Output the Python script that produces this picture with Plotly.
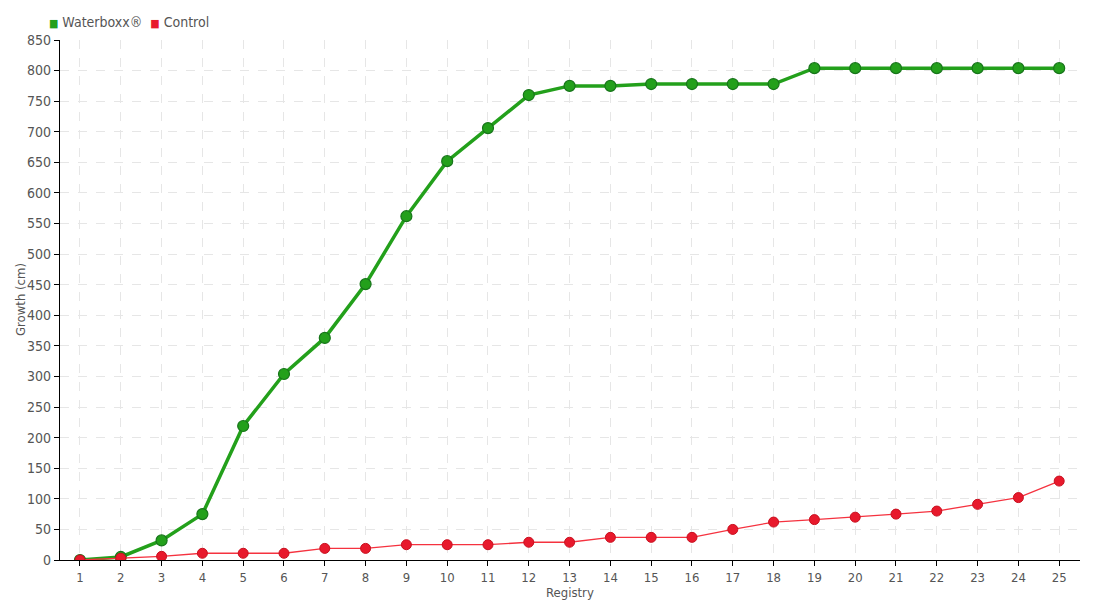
import plotly.graph_objects as go

registry = list(range(1, 26))
waterboxx = [0, 5, 32, 75, 219, 304, 363, 451, 562, 652, 706, 760, 775, 775, 778,
             778, 778, 778, 804, 804, 804, 804, 804, 804, 804]
control = [0, 3, 6, 11, 11, 11, 19, 19, 25, 25, 25, 29, 29, 37, 37,
           37, 50, 62, 66, 70, 75, 80, 91, 102, 129]

series_names = ["Waterboxx®", "Control"]
series_colors = ['#23a01b', '#e8192c']

font_family = "DejaVu Sans Condensed, Liberation Sans Narrow, sans-serif"
text_color = "#555555"

fig = go.Figure()

fig.add_trace(
    go.Scatter(
        x=registry,
        y=waterboxx,
        mode='lines+markers',
        line=dict(color='#23a01b', width=3.5),
        marker=dict(color='#23a01b', size=11, line=dict(color='#17751a', width=1.2)),
        showlegend=False,
        name=series_names[0]
    )
)

fig.add_trace(
    go.Scatter(
        x=registry,
        y=control,
        mode='lines+markers',
        line=dict(color='#f5323f', width=1.3),
        marker=dict(color='#e8192c', size=10, line=dict(color='#c8101f', width=1)),
        showlegend=False,
        name=series_names[1]
    )
)

# Compact legend drawn as text with square swatches
legend_text = "&nbsp;&nbsp;".join(
    f"<span style='color:{c}; font-size:11px'>■</span>&nbsp;{n}" for n, c in zip(series_names, series_colors)
)
fig.add_annotation(
    text=legend_text,
    xref='paper', yref='paper',
    x=-0.013, y=1.0,
    xanchor='left', yanchor='middle',
    yshift=18,
    showarrow=False,
    font=dict(size=14, color=text_color)
)

# Axis titles placed close to the tick labels, as in the original
fig.add_annotation(
    text="Registry",
    xref='paper', yref='paper',
    x=0.5, y=0.0,
    xanchor='center', yanchor='middle',
    yshift=-32,
    showarrow=False,
    font=dict(size=13, color=text_color)
)
fig.add_annotation(
    text="Growth (cm)",
    xref='paper', yref='paper',
    x=0.0, y=0.5,
    xanchor='center', yanchor='middle',
    xshift=-40,
    textangle=-90,
    showarrow=False,
    font=dict(size=13, color=text_color)
)

# Page body has an 8px margin, so the figure is offset to line up with the window
fig.update_layout(
    width=1084,
    height=592,
    margin=dict(l=52, r=12, t=32, b=40, autoexpand=False),
    plot_bgcolor='white',
    paper_bgcolor='white',
    font=dict(family=font_family, size=14, color=text_color),
    showlegend=False,
    xaxis=dict(
        range=[0.51, 25.51],
        tickmode='array',
        tickvals=registry,
        ticktext=[str(r) for r in registry],
        tickfont=dict(size=13),
        showline=True,
        linecolor='black',
        linewidth=1.2,
        ticks='outside',
        ticklen=5,
        tickcolor='black',
        showgrid=True,
        gridcolor='#e6e6e6',
        griddash='dash',
        gridwidth=1,
        zeroline=False,
        automargin=False
    ),
    yaxis=dict(
        range=[0, 850],
        dtick=50,
        tickfont=dict(size=14),
        showline=True,
        linecolor='black',
        linewidth=1.2,
        ticks='outside',
        ticklen=5,
        tickcolor='black',
        showgrid=True,
        gridcolor='#e6e6e6',
        griddash='dash',
        gridwidth=1,
        zeroline=False,
        automargin=False
    )
)

fig.write_html("out.html")
